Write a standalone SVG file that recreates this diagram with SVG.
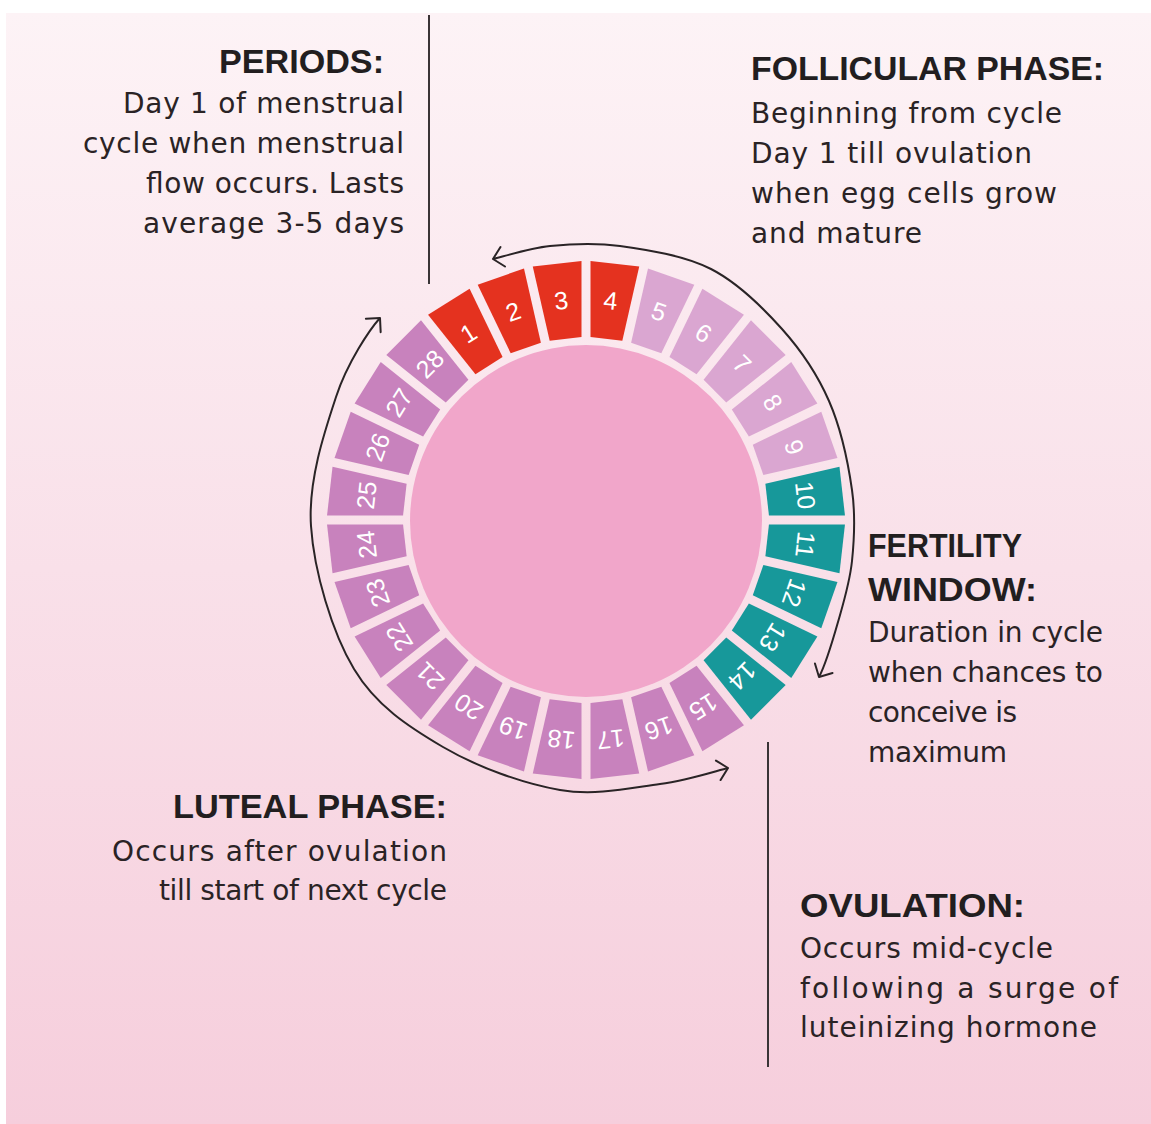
<svg xmlns="http://www.w3.org/2000/svg" width="1151" height="1124" viewBox="0 0 1151 1124">
  <defs>
    <linearGradient id="bg" x1="0" y1="0" x2="0" y2="1">
      <stop offset="0" stop-color="#fdf3f6"/>
      <stop offset="0.5" stop-color="#f9e0e9"/>
      <stop offset="1" stop-color="#f6cedc"/>
    </linearGradient>
    <polygon id="seg" points="-16.01,-182.3 16.01,-182.3 24.52,-257.84 -24.52,-257.84"/>
    <marker id="chev" viewBox="-12 -12 14 24" refX="0" refY="0" markerWidth="14" markerHeight="24" markerUnits="userSpaceOnUse" orient="auto-start-reverse">
      <path d="M-10,-10 L0,0 L-10,10" fill="none" stroke="#2a2426" stroke-width="2" stroke-linecap="round" stroke-linejoin="round"/>
    </marker>
    <style>
      .red{fill:#e4321f}
      .lt{fill:#daa6d1}
      .teal{fill:#17989a}
      .mv{fill:#c882bd}
      .num{font-family:"Liberation Sans",Arial,sans-serif;font-size:25px;fill:#ffffff;text-anchor:middle}
      .head{font-family:"Liberation Sans",Arial,sans-serif;font-weight:bold;font-size:34px;fill:#221e1f}
      .body{font-family:"DejaVu Sans","Liberation Sans",sans-serif;font-size:28px;fill:#2a2325}
      .end{text-anchor:end}
      .arc{fill:none;stroke:#2a2426;stroke-width:2}
      .vline{stroke:#3a3436;stroke-width:2}
    </style>
  </defs>

  <rect x="0" y="0" width="1151" height="1124" fill="#ffffff"/>
  <rect x="6" y="13" width="1145" height="1111" fill="url(#bg)"/>

  <circle id="center-disc" cx="586" cy="521" r="176" fill="#f1a6ca"/>

  <g id="days" transform="translate(586,520)">
    <g id="day-1" transform="rotate(-32.143)"><use href="#seg" class="red"/><text class="num" x="0" y="-221" dy="0.36em">1</text></g>
    <g id="day-2" transform="rotate(-19.286)"><use href="#seg" class="red"/><text class="num" x="0" y="-221" dy="0.36em">2</text></g>
    <g id="day-3" transform="rotate(-6.429)"><use href="#seg" class="red"/><text class="num" x="0" y="-221" dy="0.36em">3</text></g>
    <g id="day-4" transform="rotate(6.429)"><use href="#seg" class="red"/><text class="num" x="0" y="-221" dy="0.36em">4</text></g>
    <g id="day-5" transform="rotate(19.286)"><use href="#seg" class="lt"/><text class="num" x="0" y="-221" dy="0.36em">5</text></g>
    <g id="day-6" transform="rotate(32.143)"><use href="#seg" class="lt"/><text class="num" x="0" y="-221" dy="0.36em">6</text></g>
    <g id="day-7" transform="rotate(45)"><use href="#seg" class="lt"/><text class="num" x="0" y="-221" dy="0.36em">7</text></g>
    <g id="day-8" transform="rotate(57.857)"><use href="#seg" class="lt"/><text class="num" x="0" y="-221" dy="0.36em">8</text></g>
    <g id="day-9" transform="rotate(70.714)"><use href="#seg" class="lt"/><text class="num" x="0" y="-221" dy="0.36em">9</text></g>
    <g id="day-10" transform="rotate(83.571)"><use href="#seg" class="teal"/><text class="num" x="0" y="-221" dy="0.36em">10</text></g>
    <g id="day-11" transform="rotate(96.429)"><use href="#seg" class="teal"/><text class="num" x="0" y="-221" dy="0.36em">11</text></g>
    <g id="day-12" transform="rotate(109.286)"><use href="#seg" class="teal"/><text class="num" x="0" y="-221" dy="0.36em">12</text></g>
    <g id="day-13" transform="rotate(122.143)"><use href="#seg" class="teal"/><text class="num" x="0" y="-221" dy="0.36em">13</text></g>
    <g id="day-14" transform="rotate(135)"><use href="#seg" class="teal"/><text class="num" x="0" y="-221" dy="0.36em">14</text></g>
    <g id="day-15" transform="rotate(147.857)"><use href="#seg" class="mv"/><text class="num" x="0" y="-221" dy="0.36em">15</text></g>
    <g id="day-16" transform="rotate(160.714)"><use href="#seg" class="mv"/><text class="num" x="0" y="-221" dy="0.36em">16</text></g>
    <g id="day-17" transform="rotate(173.571)"><use href="#seg" class="mv"/><text class="num" x="0" y="-221" dy="0.36em">17</text></g>
    <g id="day-18" transform="rotate(186.429)"><use href="#seg" class="mv"/><text class="num" x="0" y="-221" dy="0.36em">18</text></g>
    <g id="day-19" transform="rotate(199.286)"><use href="#seg" class="mv"/><text class="num" x="0" y="-221" dy="0.36em">19</text></g>
    <g id="day-20" transform="rotate(212.143)"><use href="#seg" class="mv"/><text class="num" x="0" y="-221" dy="0.36em">20</text></g>
    <g id="day-21" transform="rotate(225)"><use href="#seg" class="mv"/><text class="num" x="0" y="-221" dy="0.36em">21</text></g>
    <g id="day-22" transform="rotate(237.857)"><use href="#seg" class="mv"/><text class="num" x="0" y="-221" dy="0.36em">22</text></g>
    <g id="day-23" transform="rotate(250.714)"><use href="#seg" class="mv"/><text class="num" x="0" y="-221" dy="0.36em">23</text></g>
    <g id="day-24" transform="rotate(263.571)"><use href="#seg" class="mv"/><text class="num" x="0" y="-221" dy="0.36em">24</text></g>
    <g id="day-25" transform="rotate(276.429)"><use href="#seg" class="mv"/><text class="num" x="0" y="-221" dy="0.36em">25</text></g>
    <g id="day-26" transform="rotate(289.286)"><use href="#seg" class="mv"/><text class="num" x="0" y="-221" dy="0.36em">26</text></g>
    <g id="day-27" transform="rotate(302.143)"><use href="#seg" class="mv"/><text class="num" x="0" y="-221" dy="0.36em">27</text></g>
    <g id="day-28" transform="rotate(315)"><use href="#seg" class="mv"/><text class="num" x="0" y="-221" dy="0.36em">28</text></g>
  </g>

  <g id="connectors">
    <path id="follicular-arc" class="arc" marker-start="url(#chev)" marker-end="url(#chev)" d="M493,259 C502.5,256.8 528.8,248.2 550,246 C571.2,243.8 593.2,242.2 620,246 C646.8,249.8 684,255.2 711,269 C738,282.8 762.3,307 782,329 C801.7,351 817.3,374.2 829,401 C840.7,427.8 848.2,463.3 852,490 C855.8,516.7 854.3,539 852,561 C849.7,583 843.5,602.7 838,622 C832.5,641.3 826,664 819,677"/>
    <path id="luteal-arc" class="arc" marker-start="url(#chev)" marker-end="url(#chev)" d="M380,318 C370,329 347.5,362.3 336,397 C324.5,431.7 308,480.7 311,526 C314,571.3 332,632.2 354,669 C376,705.8 408.7,726.8 443,747 C477.3,767.2 523.8,783.8 560,790 C596.2,796.2 632,787.7 660,784 C688,780.3 716.7,770.7 728,768"/>
    <line id="periods-line" class="vline" x1="429" y1="15" x2="429" y2="284"/>
    <line id="ovulation-line" class="vline" x1="768" y1="742" x2="768" y2="1067"/>
  </g>

  <g id="periods">
    <text class="head end" x="384" y="73" textLength="165" lengthAdjust="spacingAndGlyphs">PERIODS:</text>
    <text class="body end" x="404" y="113" textLength="281" lengthAdjust="spacing">Day 1 of menstrual</text>
    <text class="body end" x="404" y="153" textLength="321" lengthAdjust="spacing">cycle when menstrual</text>
    <text class="body end" x="404" y="193" textLength="258" lengthAdjust="spacing">flow occurs. Lasts</text>
    <text class="body end" x="404" y="233" textLength="261" lengthAdjust="spacing">average 3-5 days</text>
  </g>

  <g id="follicular-phase">
    <text class="head" x="751" y="80" textLength="353" lengthAdjust="spacingAndGlyphs">FOLLICULAR PHASE:</text>
    <text class="body" x="751" y="123" textLength="311" lengthAdjust="spacing">Beginning from cycle</text>
    <text class="body" x="751" y="163" textLength="281" lengthAdjust="spacing">Day 1 till ovulation</text>
    <text class="body" x="751" y="203" textLength="306" lengthAdjust="spacing">when egg cells grow</text>
    <text class="body" x="751" y="243" textLength="171" lengthAdjust="spacing">and mature</text>
  </g>

  <g id="fertility-window">
    <text class="head" x="868" y="557" textLength="154" lengthAdjust="spacingAndGlyphs">FERTILITY</text>
    <text class="head" x="868" y="601" textLength="169" lengthAdjust="spacingAndGlyphs">WINDOW:</text>
    <text class="body" x="868" y="642" textLength="235" lengthAdjust="spacing">Duration in cycle</text>
    <text class="body" x="868" y="682" textLength="235" lengthAdjust="spacing">when chances to</text>
    <text class="body" x="868" y="722" textLength="149" lengthAdjust="spacing">conceive is</text>
    <text class="body" x="868" y="762" textLength="139" lengthAdjust="spacing">maximum</text>
  </g>

  <g id="luteal-phase">
    <text class="head end" x="447" y="818" textLength="274" lengthAdjust="spacingAndGlyphs">LUTEAL PHASE:</text>
    <text class="body end" x="447" y="861" textLength="335" lengthAdjust="spacing">Occurs after ovulation</text>
    <text class="body end" x="447" y="900" textLength="288" lengthAdjust="spacing">till start of next cycle</text>
  </g>

  <g id="ovulation">
    <text class="head" x="800" y="917" textLength="225" lengthAdjust="spacingAndGlyphs">OVULATION:</text>
    <text class="body" x="800" y="958" textLength="253" lengthAdjust="spacing">Occurs mid-cycle</text>
    <text class="body" x="800" y="998" textLength="318" lengthAdjust="spacing">following a surge of</text>
    <text class="body" x="800" y="1037" textLength="297" lengthAdjust="spacing">luteinizing hormone</text>
  </g>
</svg>
